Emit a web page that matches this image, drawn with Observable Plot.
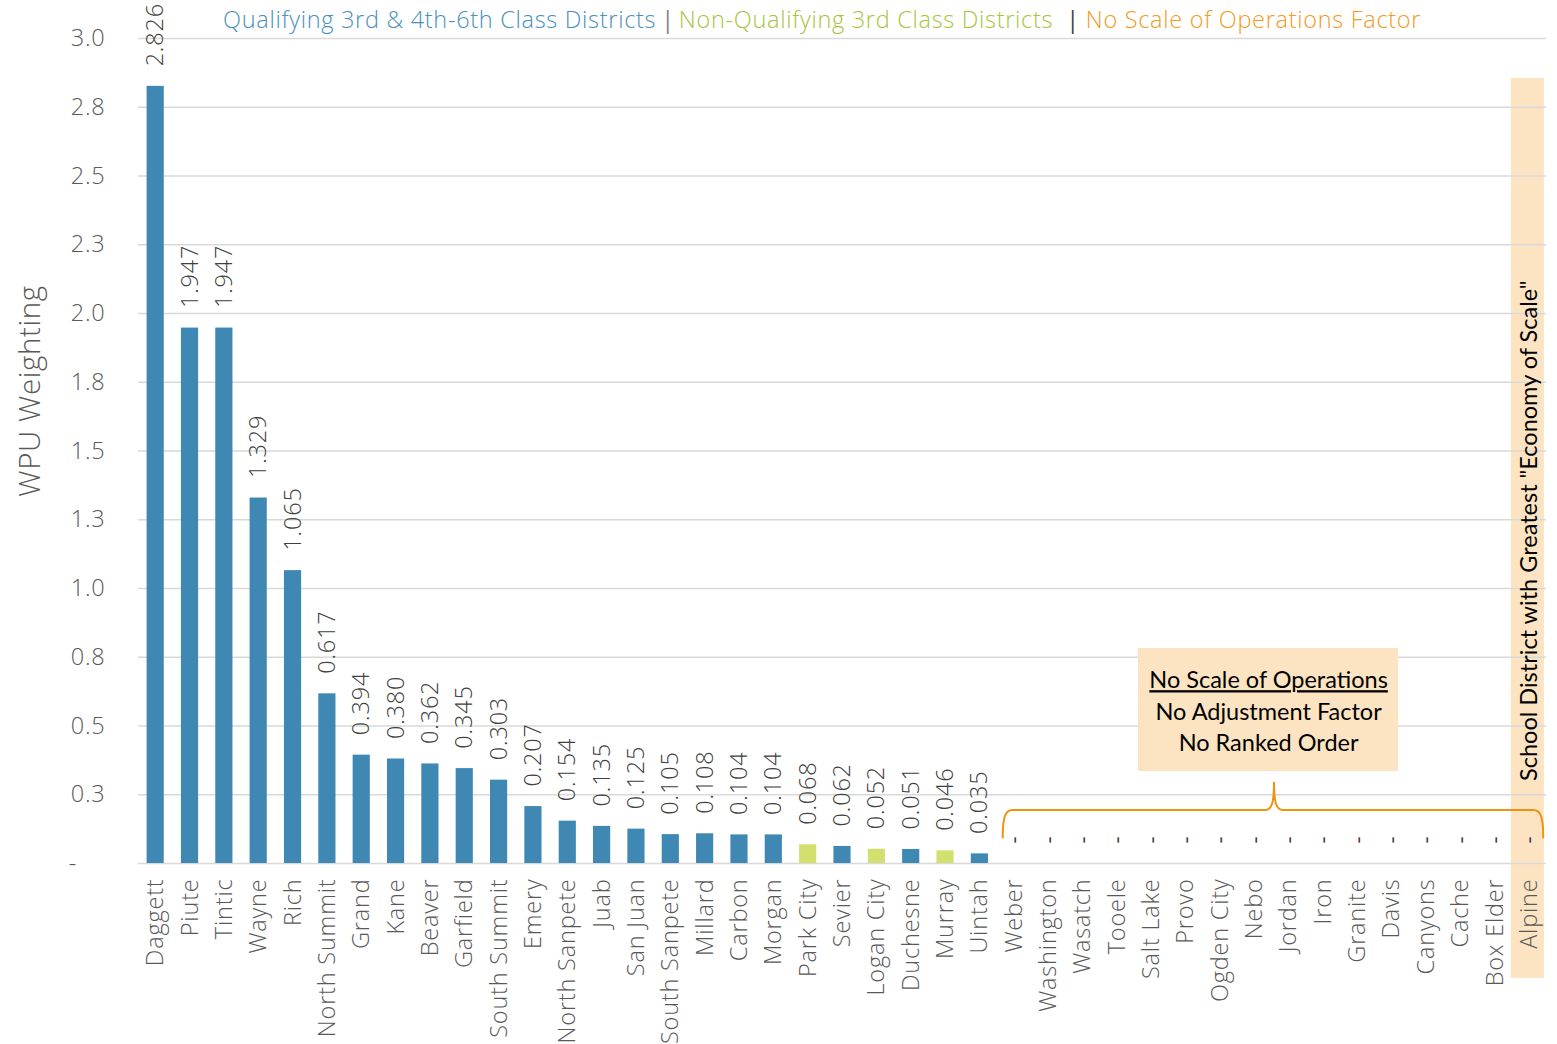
<!DOCTYPE html>
<html>
<head>
<meta charset="utf-8">
<script src="https://cdn.jsdelivr.net/npm/d3@7"></script>
<script src="https://cdn.jsdelivr.net/npm/@observablehq/plot@0.6"></script>
<style>
  body { margin: 0; background: #fff; }
  #wrap { position: relative; width: 1557px; height: 1044px; }
  #legend { position: absolute; top: 3px; left: 223px; font-family: 'Open Sans', sans-serif; font-weight: 300; font-size: 23.5px; letter-spacing: 0.7px; white-space: nowrap; }
  #legend .sep1 { color: #7f7f7f; margin: 0 4px 0 5px; font-weight: 400; }
  #legend .sep2 { color: #404040; margin: 0 6px 0 13px; font-weight: 400; }
  svg text { letter-spacing: 0.8px; }
</style>
</head>
<body>
<div id="wrap">
  <div id="chart"></div>
  <div id="legend"><span style="color:#4a90bd">Qualifying 3rd &amp; 4th-6th Class Districts</span><span class="sep1">|</span><span style="color:#a7c43d">Non-Qualifying 3rd Class Districts</span><span class="sep2">|</span><span style="color:#f29a22">No Scale of Operations Factor</span></div>
</div>
<script>
const districts = ["Daggett","Piute","Tintic","Wayne","Rich","North Summit","Grand","Kane","Beaver","Garfield","South Summit","Emery","North Sanpete","Juab","San Juan","South Sanpete","Millard","Carbon","Morgan","Park City","Sevier","Logan City","Duchesne","Murray","Uintah","Weber","Washington","Wasatch","Tooele","Salt Lake","Provo","Ogden City","Nebo","Jordan","Iron","Granite","Davis","Canyons","Cache","Box Elder","Alpine"];
const values = [2.826,1.947,1.947,1.329,1.065,0.617,0.394,0.380,0.362,0.345,0.303,0.207,0.154,0.135,0.125,0.105,0.108,0.104,0.104,0.068,0.062,0.052,0.051,0.046,0.035,0,0,0,0,0,0,0,0,0,0,0,0,0,0,0,0];
const groups = ["Q","Q","Q","Q","Q","Q","Q","Q","Q","Q","Q","Q","Q","Q","Q","Q","Q","Q","Q","N","Q","N","Q","N","Q","Z","Z","Z","Z","Z","Z","Z","Z","Z","Z","Z","Z","Z","Z","Z","Z"];
const groupColors = {Q: "#3f88b4", N: "#d3e06f", Z: "#3f88b4"};
const yTicks = [0,0.25,0.5,0.75,1,1.25,1.5,1.75,2,2.25,2.5,2.75,3];
const boxLines = ["No Scale of Operations","No Adjustment Factor","No Ranked Order"];
const boxLineY = [0.665,0.549,0.436];
const bandNote = 'School District with Greatest "Economy of Scale"';

const data = districts.map((d, i) => ({district: d, value: values[i], group: groups[i]}));
const withValue = data.filter(d => d.value > 0);
const noValue = data.filter(d => !(d.value > 0));

function brace(index, scales) {
  const x = scales.x, y = scales.y;
  const step = x("Washington") - x("Weber");
  const bw = x.bandwidth ? x.bandwidth() : 0;
  const c = n => x(n) + bw / 2;
  const xl = c("Weber") - 0.32 * step;
  const xr = c("Alpine") + 0.42 * step;
  const xm = c("Nebo") + 0.58 * step;
  const yb = y(0.09), yh = y(0.193), yp = y(0.295);
  const d = `M${xl},${yb} C${xl},${yh + 8} ${xl + 2},${yh} ${xl + 10},${yh} H${xm - 9} C${xm - 2},${yh} ${xm},${yh - 8} ${xm},${yp} C${xm},${yh - 8} ${xm + 2},${yh} ${xm + 9},${yh} H${xr - 10} C${xr - 2},${yh} ${xr},${yh + 8} ${xr},${yb}`;
  return d3.create("svg:path").attr("d", d).attr("fill", "none").attr("stroke", "#f0920f").attr("stroke-width", 2).node();
}

const chart = Plot.plot({
  width: 1557,
  height: 1044,
  marginTop: 38,
  marginBottom: 181,
  marginLeft: 138,
  marginRight: 11,
  style: {fontFamily: "'Open Sans', sans-serif", fontWeight: 300, fontSize: "23.5px", color: "#595959", background: "transparent", overflow: "visible"},
  x: {domain: districts, paddingInner: 0.5, paddingOuter: 0.25, round: false, label: null},
  y: {domain: [0, 3], label: null},
  marks: [
    Plot.barY(["Alpine"], {x: d => d, y1: -0.418, y2: 2.855, fill: "#fce4c3", insetLeft: -9.5, insetRight: -6.5}),
    Plot.ruleY(yTicks, {stroke: "#d9d9d9", strokeWidth: 1.5}),
    Plot.axisY({ticks: yTicks, tickFormat: d => d === 0 ? "-\u2007\u2007" : d.toFixed(1), label: null, tickSize: 0, tickPadding: 33, fontSize: 23.5}),
    Plot.barY(data, {x: "district", y: "value", fill: d => groupColors[d.group]}),
    Plot.text(withValue, {x: "district", y: "value", text: d => d.value.toFixed(3), rotate: -90, textAnchor: "start", dy: -20, fill: "#404040", fontSize: 23.5}),
    Plot.text(noValue, {x: "district", y: "value", text: () => "-", rotate: -90, textAnchor: "start", dy: -20, fill: "#404040", fontWeight: 400, fontSize: 22}),
    Plot.barY(["Nebo"], {x: d => d, y1: 0.3345, y2: 0.782, fill: "#fce4c3", insetLeft: -107.5, insetRight: -135.5}),
    Plot.text(boxLines, {x: () => "Nebo", y: (d, i) => boxLineY[i], text: d => d, dx: 14, fill: "#000", fontFamily: "Lato, sans-serif", fontWeight: 400, fontSize: 23.5}),
    Plot.text([bandNote], {x: () => "Alpine", y: () => 1.21, text: d => d, rotate: -90, fill: "#000", fontFamily: "Lato, sans-serif", fontWeight: 400, fontSize: 23.5}),
    brace,
    Plot.axisX({label: null, tickRotate: -90, tickSize: 0, tickPadding: 15, fontSize: 23.5})
  ]
});
document.getElementById("chart").appendChild(chart);

d3.select(chart).selectAll("text").filter(function() { return this.textContent === boxLines[0]; }).style("text-decoration", "underline");
d3.select(chart).selectAll("text").filter(function() {
  return this.textContent === boxLines[0] || this.textContent === boxLines[1] || this.textContent === boxLines[2] || this.textContent === bandNote;
}).style("letter-spacing", "0px");

// y-axis title
d3.select(chart).append("text")
  .attr("transform", "translate(30,391) rotate(-90)")
  .attr("text-anchor", "middle")
  .attr("dy", "0.35em")
  .attr("fill", "#595959")
  .style("font-size", "29.5px")
  .style("letter-spacing", "0.6px")
  .text("WPU Weighting");
</script>
</body>
</html>
